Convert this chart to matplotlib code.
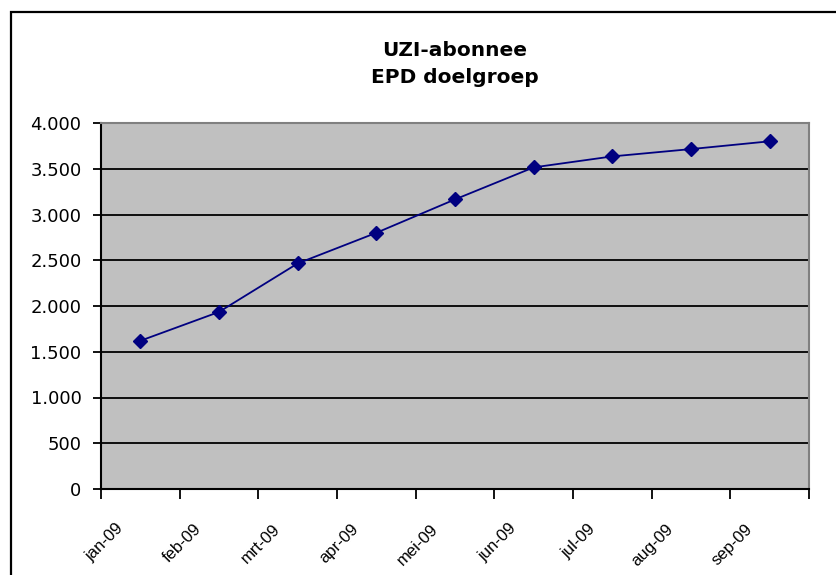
import matplotlib
matplotlib.use('Agg')
import numpy as np
import matplotlib.pyplot as plt
from matplotlib.patches import Rectangle
from matplotlib.ticker import FuncFormatter, FixedLocator
from matplotlib.transforms import ScaledTranslation

months = ['jan-09', 'feb-09', 'mrt-09', 'apr-09', 'mei-09', 'jun-09', 'jul-09', 'aug-09', 'sep-09']
abonnees = [1620, 1935, 2465, 2800, 3165, 3515, 3635, 3715, 3800]
yticks = [0, 500, 1000, 1500, 2000, 2500, 3000, 3500, 4000]

W, H = 837, 575
fig = plt.figure(figsize=(W / 100, H / 100), dpi=100)

# outer chart border (only top and left are visible, rest is cut off)
fig.patches.append(Rectangle((11 / W, -0.1), 1.2, 1 - 12 / H + 0.1, transform=fig.transFigure,
                             fill=False, edgecolor='black', linewidth=1.6))

# plot area
left, right, top, bottom = 101, 809, 123, 489
ax = fig.add_axes([left / W, 1 - bottom / H, (right - left) / W, (bottom - top) / H])
ax.set_facecolor('#C0C0C0')

x = np.arange(len(months)) + 0.5
ax.plot(x, abonnees, color='#000080', linewidth=1.3, marker='D', markersize=7.5,
        markerfacecolor='#000080', markeredgecolor='#000080', zorder=3)

ax.set_xlim(0, len(months))
ax.set_ylim(0, 4000)
ax.set_yticks(yticks)
ax.yaxis.set_major_formatter(FuncFormatter(lambda v, p: '{:,.0f}'.format(v).replace(',', '.')))
for v in yticks[1:]:
    ax.axhline(v, color='black', linewidth=1.3, zorder=1)

# category ticks between months, labels placed below (excel style, shifted left)
ax.xaxis.set_major_locator(FixedLocator(np.arange(len(months) + 1)))
ax.set_xticklabels([])
lab_tf = ax.get_xaxis_transform() + ScaledTranslation(-0.25, -0.32, fig.dpi_scale_trans)
for xi, m in zip(x, months):
    ax.text(xi, 0, m, transform=lab_tf, rotation=45, ha='right', va='top',
            rotation_mode='anchor', family='Liberation Sans', fontsize=12)
ax.tick_params(axis='x', which='major', length=7, width=1.3, direction='out')
ax.tick_params(axis='y', length=6, width=1.3, direction='out', labelsize=13, pad=8)

for s in ['left', 'bottom']:
    ax.spines[s].set_color('black')
    ax.spines[s].set_linewidth(1.5)
for s in ['top', 'right']:
    ax.spines[s].set_color('#808080')
    ax.spines[s].set_linewidth(1.5)

cx = 455 / W
fig.text(cx, 1 - 56 / H, 'UZI-abonnee', ha='center', va='baseline',
         fontsize=14.5, fontweight='bold', family='DejaVu Sans')
fig.text(cx, 1 - 83 / H, 'EPD doelgroep', ha='center', va='baseline',
         fontsize=14.5, fontweight='bold', family='DejaVu Sans')

fig.savefig('out.png', dpi=100)
